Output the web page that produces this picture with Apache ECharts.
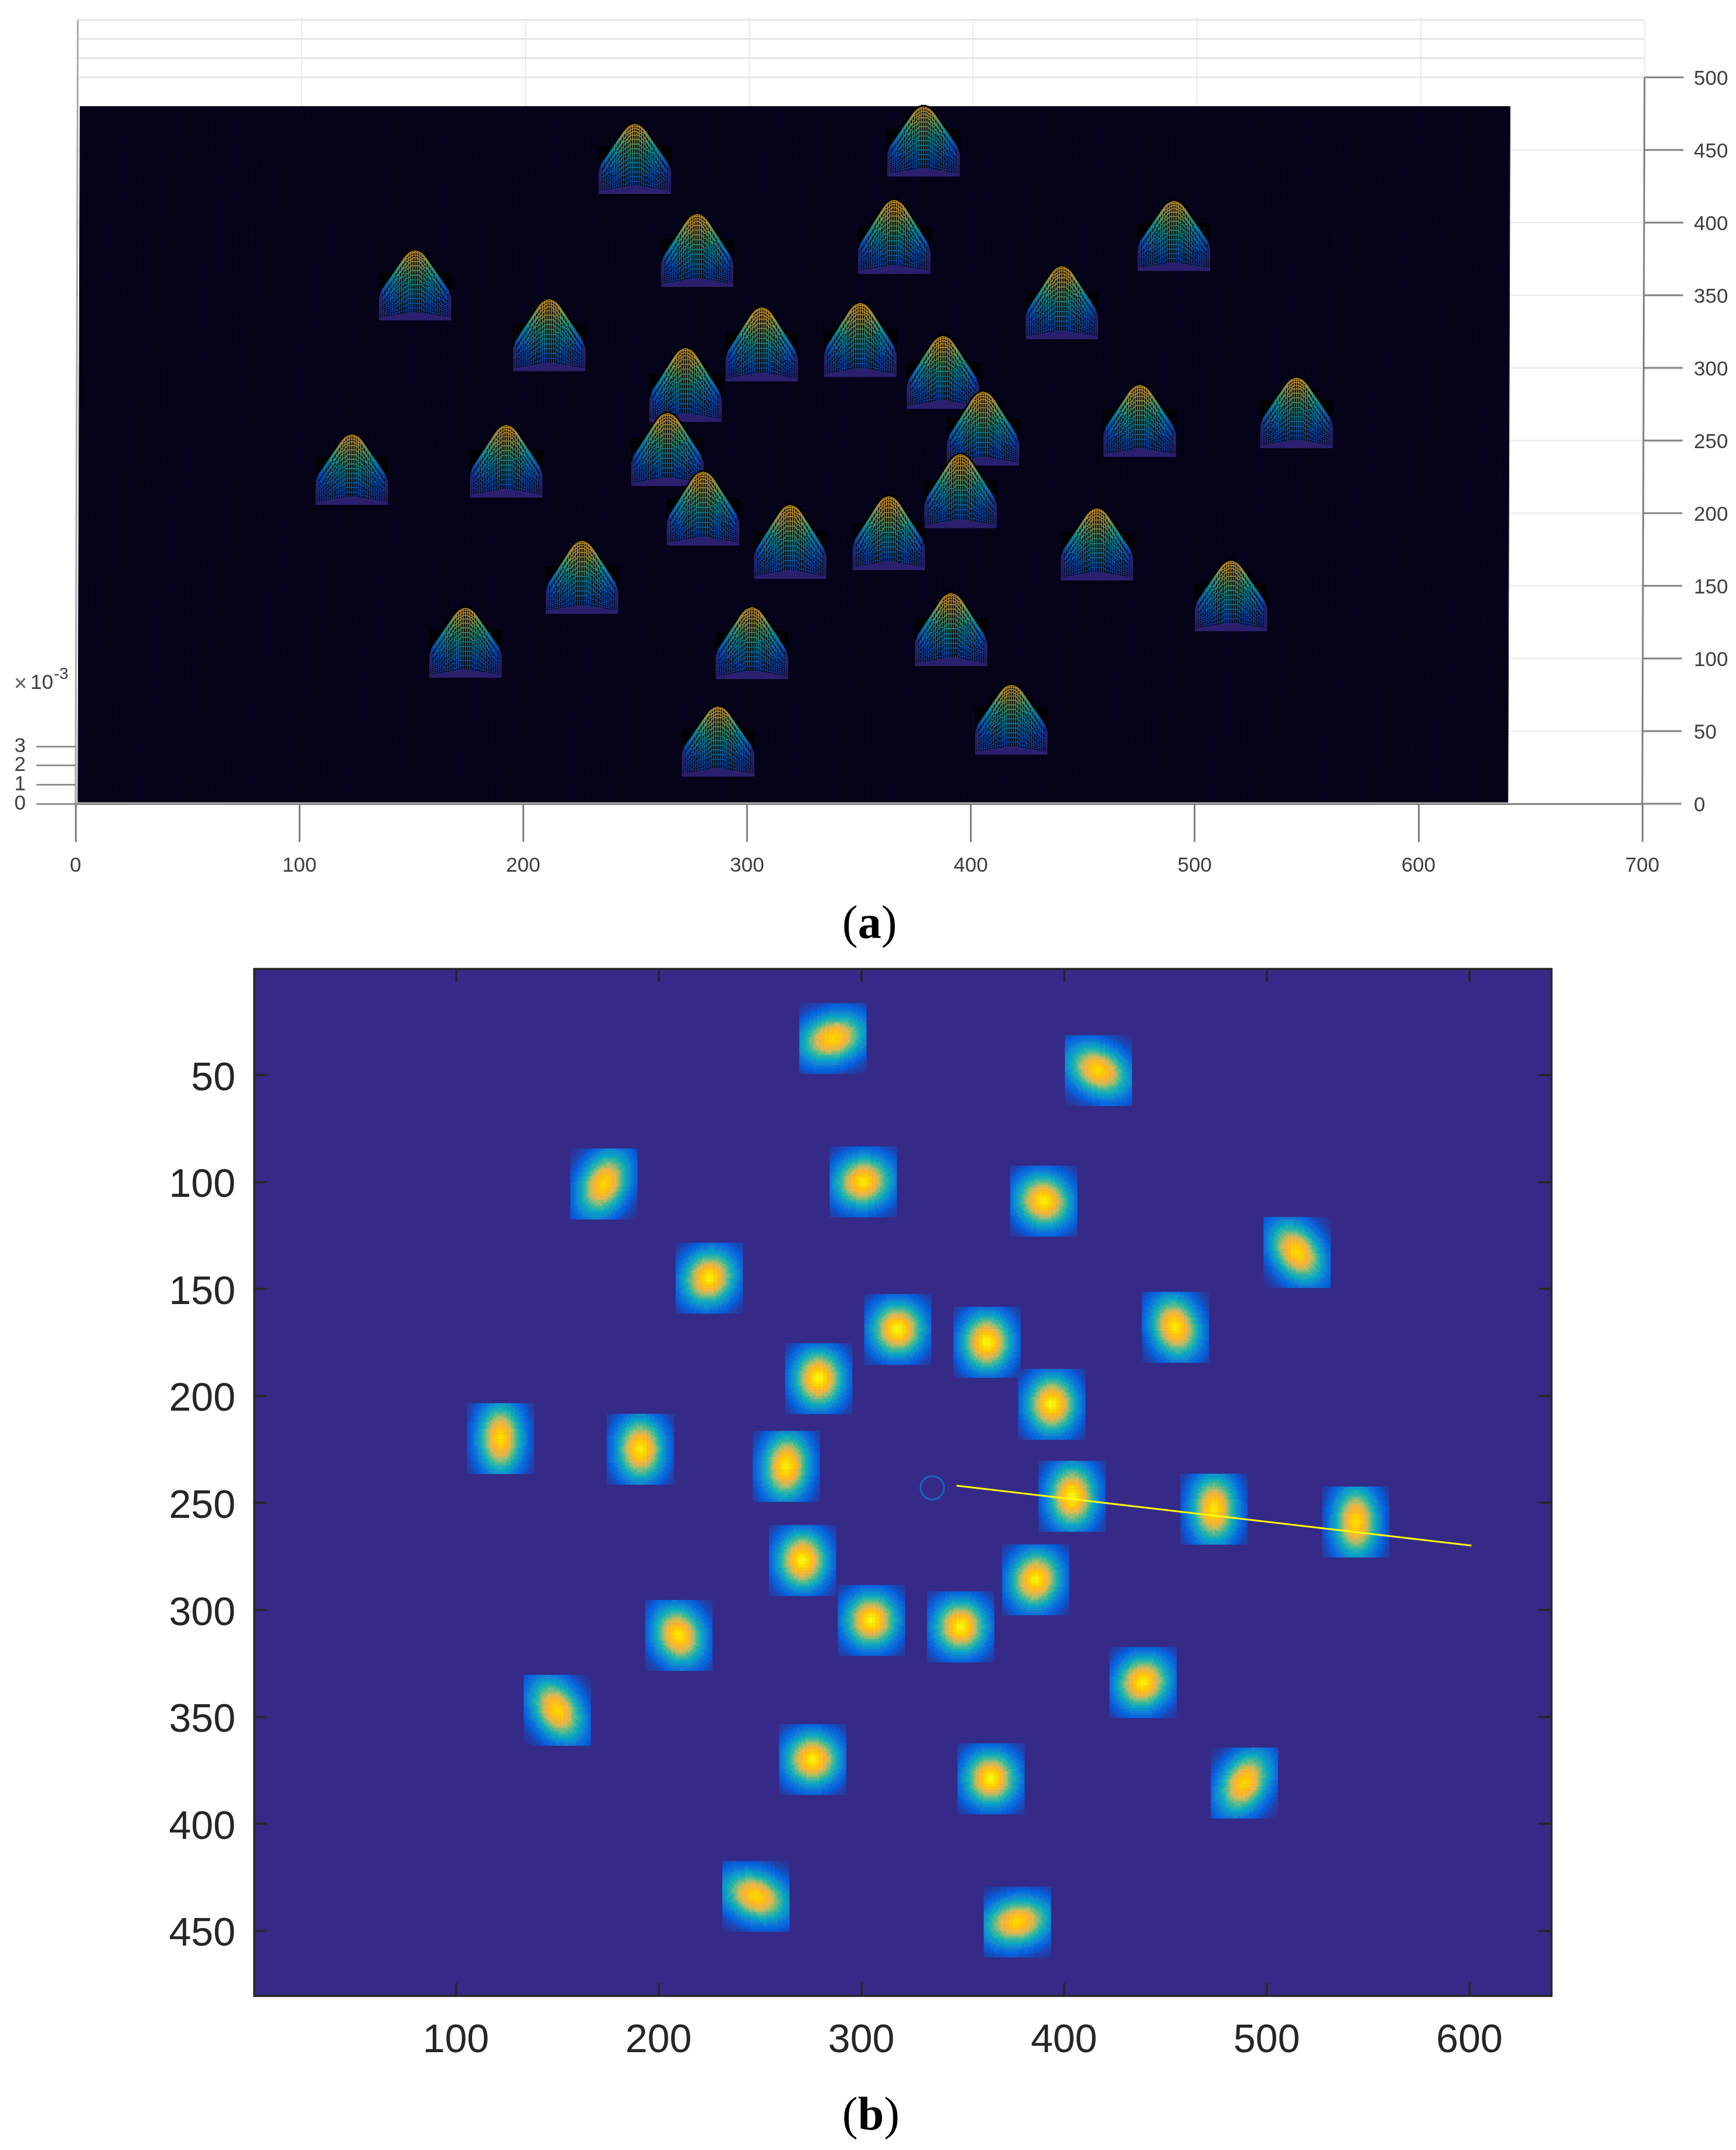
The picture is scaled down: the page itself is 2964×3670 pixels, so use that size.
<!DOCTYPE html>
<html>
<head>
<meta charset="utf-8">
<style>
    html, body { margin: 0; padding: 0; background: #fff; }
    #myChart { width: 2964px; height: 3670px; }
</style>
<script src="https://cdn.jsdelivr.net/npm/echarts@6/dist/echarts.min.js"></script>
</head>
<body>
<div id="myChart"></div>
<script>
/* tick labels */
var imageXTicks = [100, 200, 300, 400, 500, 600];
var imageYTicks = [50, 100, 150, 200, 250, 300, 350, 400, 450];
var surfXTicks = [0, 100, 200, 300, 400, 500, 600, 700];
var surfYTicks = [0, 50, 100, 150, 200, 250, 300, 350, 400, 450, 500];
var surfZTicks = [0, 1, 2, 3];
var surfZTicksEven = [0, 2];   // two axes, labels sit too close for one
var surfZTicksOdd = [1, 3];

/* spots: centre, peak level, elongation, tilt in degrees */
var spotX = [286, 417, 173, 301, 390, 515, 225, 318, 362, 455, 279, 394, 122, 191, 263, 404, 474, 544, 271, 386, 305, 349, 210, 439, 150, 276, 364, 489, 248, 377];
var spotY = [33, 48, 101, 100, 109, 133, 145, 169, 175, 168, 192, 204, 220, 225, 233, 247, 253, 259, 277, 286, 305, 308, 312, 334, 347, 370, 379, 381, 434, 446];
var spotPeak = [0.92, 0.92, 0.92, 0.96, 0.98, 0.93, 0.98, 1, 1, 0.96, 1, 1, 0.93, 0.97, 0.98, 1, 0.96, 0.93, 1, 0.98, 1, 1, 0.96, 0.98, 0.92, 0.98, 1, 0.92, 0.92, 0.92];
var spotLong = [1.35, 1.3, 1.3, 1.15, 1.1, 1.3, 1.1, 1.05, 1.1, 1.2, 1.1, 1.1, 1.35, 1.2, 1.25, 1.2, 1.3, 1.35, 1.1, 1.1, 1.05, 1.05, 1.15, 1.1, 1.3, 1.1, 1.05, 1.3, 1.35, 1.35];
var spotTilt = [15, -25, 60, 10, -20, -50, 40, 0, 90, -70, 90, 90, 90, 90, 85, 90, 90, 90, 90, 70, 0, 0, -60, 30, -55, 0, 0, 55, -20, 10];

/* level at each whole radius from the spot centre */
var imageLevels = [1, 0.98, 0.95, 0.91, 0.86, 0.8, 0.73, 0.64, 0.56, 0.49, 0.43, 0.37, 0.31, 0.26, 0.2, 0.16, 0.13, 0.1, 0.08, 0.06, 0.05, 0.04, 0.03, 0.02, 0.01, 0];
var surfLevels = [1, 0.99, 0.97, 0.94, 0.89, 0.83, 0.76, 0.69, 0.62, 0.55, 0.48, 0.41, 0.34, 0.27, 0.2, 0.13, 0.1, 0.08, 0.06, 0.05, 0.04, 0.03, 0.02, 0.01];

/* overlays on panel (b) */
var traceX = [347, 601];
var traceY = [242, 270];
var ringX = [335];
var ringY = [243];

/* colour scale */
var parula = ['#352a87', '#0363e1', '#1485d4', '#06a7c6', '#38b99e', '#92bf73', '#d9ba56', '#fdb52d', '#ffd000', '#f9fb0e'];

var SPOT_HALF = 16;      // window half width
var SURF_PEAK = 2.6;     // peak height in 1e-3
var SURF_DX = 1;         // surface sits a little off the image grid
var SURF_DY = 2;
var Z_TO_Y = 13.2;       // 1e-3 of height drawn as this many y units
var SHEAR = 0.002;       // view tilt of the y axis

function spotRadius(i, dx, dy) {
    var a = spotTilt[i] * Math.PI / 180;
    var u = dx * Math.cos(a) - dy * Math.sin(a);
    var v = dx * Math.sin(a) + dy * Math.cos(a);
    var lng = spotLong[i], sht = Math.sqrt(1.1 / lng);
    return Math.sqrt(u * u / (lng * lng) + v * v / (sht * sht));
}
function levelAt(levels, r) {
    var k = Math.round(r);
    return k >= levels.length ? 0 : levels[k];
}

/* image cells */
var imageCats = [], imageRows = [];
for (var c = 1; c <= 640; c++) imageCats.push(String(c));
for (var r = 1; r <= 480; r++) imageRows.push(String(r));
var imageCells = [];
spotX.forEach(function (sx, i) {
    for (var dx = -SPOT_HALF; dx <= SPOT_HALF; dx++) {
        for (var dy = -SPOT_HALF; dy <= SPOT_HALF; dy++) {
            imageCells.push([sx + dx - 1, spotY[i] + dy - 1, spotPeak[i] * levelAt(imageLevels, spotRadius(i, dx, dy))]);
        }
    }
});

/* surface quads, panel (a) */
var quads = [];
spotX.forEach(function (sx, i) {
    var N = SPOT_HALF, h = {};
    for (var dx = -N; dx <= N; dx++) {
        h[dx] = {};
        for (var dy = -N; dy <= N; dy++) {
            var edge = Math.abs(dx) === N || Math.abs(dy) === N;
            h[dx][dy] = edge ? 0 : SURF_PEAK * spotPeak[i] * levelAt(surfLevels, Math.sqrt(dx * dx + dy * dy));
        }
    }
    for (dx = -N; dx < N; dx++) {
        for (dy = -N; dy < N; dy++) {
            quads.push([sx + dx + SURF_DX, spotY[i] + dy + SURF_DY, h[dx][dy], h[dx + 1][dy], h[dx + 1][dy + 1], h[dx][dy + 1], dy === -N ? 1 : (dy >= 0 ? 2 : 0)]);
        }
    }
});
quads.sort(function (a, b) { return b[1] - a[1]; });

function project(api, x, y, z) {
    return api.coord([x + y * SHEAR, y + z * Z_TO_Y]);
}

function renderQuad(params, api) {
    var x = api.value(0), y = api.value(1);
    var z0 = api.value(2), z1 = api.value(3), z2 = api.value(4), z3 = api.value(5);
    var part = api.value(6);
    var low = Math.min(z0, z1, z2, z3);
    var high = Math.max(z0, z1, z2, z3);
    var line = echarts.color.lerp(low / SURF_PEAK * 0.85, parula);
    line = echarts.color.lerp(0.8, ['#000000', line]);
    var fill = '#000';
    if (part === 1 && high > 0) fill = '#2b2070';
    else if (part === 0) fill = echarts.color.lerp(0.1, ['#000000', line]);
    return {
        type: 'polygon',
        silent: true,
        shape: { points: [project(api, x, y, z0), project(api, x + 1, y, z1), project(api, x + 1, y + 1, z2), project(api, x, y + 1, z3)] },
        style: {
            fill: fill,
            // the far half of each window reads as black in the picture
            stroke: part === 2 ? '#000' : line,
            lineWidth: 1.2
        }
    };
}

/* straight segments in the 3d box: x1,y1,z1,x2,y2,z2 */
function segmentSeries(segs, color, width, z) {
    return {
        type: 'custom',
        xAxisIndex: 3,
        yAxisIndex: 3,
        coordinateSystem: 'cartesian2d',
        data: segs,
        encode: { x: 0, y: 1 },
        z: z,
        silent: true,
        animation: false,
        progressive: 0,
        clip: false,
        renderItem: function (params, api) {
            var a = project(api, api.value(0), api.value(1), api.value(2));
            var b = project(api, api.value(3), api.value(4), api.value(5));
            return { type: 'line', silent: true, shape: { x1: a[0], y1: a[1], x2: b[0], y2: b[1] }, style: { stroke: color, lineWidth: width } };
        }
    };
}

var wallZ = [], wallX = [], wallY = [], meshLines = [], tickLines = [];
surfZTicks.forEach(function (z) { wallZ.push([0, 500, z, 700, 500, z]); });
surfXTicks.forEach(function (x) { wallX.push([x, 0, 0, x, 500, 0]); wallX.push([x, 500, 0, x, 500, 3]); });
surfYTicks.forEach(function (y) {
    wallY.push([0, y, 0, 700, y, 0]);
    tickLines.push([700, y, 0, 717.5, y, 0]);
});
tickLines.push([700, 0, 0, 700, 500, 0]);
for (var mx = 1; mx <= 640; mx++) meshLines.push([mx, 1, 0, mx, 480, 0]);
for (var my = 1; my <= 480; my++) meshLines.push([1, my, 0, 640, my, 0]);

var AXIS_GREY = '#808080';
var TEXT_GREY = '#404040';
var DARK = '#262626';

function zAxis(ticks) {
    return {
        type: 'value', gridIndex: 3, min: 0, max: 3, position: 'left', z: 6,
        axisLine: { lineStyle: { color: '#aaaaaa', width: 3 } },
        axisTick: { length: 67, customValues: ticks, lineStyle: { color: AXIS_GREY, width: 2.5 } },
        axisLabel: { customValues: ticks, margin: 85, color: TEXT_GREY, fontSize: 35, fontFamily: 'Liberation Sans' },
        splitLine: { show: false }
    };
}

var myChart = echarts.init(document.getElementById('myChart'));
var option = {
    animation: false,
    backgroundColor: '#fff',
    grid: [
        { left: 434, top: 1654, width: 2215, height: 1753, show: true, backgroundColor: '#352a87', borderWidth: 0, outerBoundsMode: 'none' },
        { left: 434, top: 1654, width: 2215, height: 1753, outerBoundsMode: 'none' },
        { left: 129, top: 132, width: 2675, height: 1240, outerBoundsMode: 'none' },
        { left: 129, top: 1273.9, width: 100, height: 98.1, outerBoundsMode: 'none' }
    ],
    xAxis: [
        { type: 'category', gridIndex: 0, data: imageCats, show: false },
        {
            type: 'value', gridIndex: 1, min: 0.5, max: 640.5, position: 'bottom', z: 6,
            axisLine: { onZero: false, lineStyle: { color: DARK, width: 3.5 } },
            axisTick: { inside: true, length: 22, customValues: imageXTicks, lineStyle: { color: DARK, width: 3.5 } },
            axisLabel: { customValues: imageXTicks, margin: 43, color: DARK, fontSize: 68, fontFamily: 'Liberation Sans' },
            splitLine: { show: false }
        },
        {
            type: 'value', gridIndex: 1, min: 0.5, max: 640.5, position: 'top', z: 6,
            axisLine: { onZero: false, lineStyle: { color: DARK, width: 3.5 } },
            axisTick: { inside: true, length: 22, customValues: imageXTicks, lineStyle: { color: DARK, width: 3.5 } },
            axisLabel: { show: false },
            splitLine: { show: false }
        },
        {
            type: 'value', gridIndex: 2, min: 0, max: 700, interval: 100, z: 6,
            axisLine: { onZero: false, lineStyle: { color: AXIS_GREY, width: 3 } },
            axisTick: { length: 65, lineStyle: { color: AXIS_GREY, width: 3 } },
            axisLabel: { margin: 89, color: TEXT_GREY, fontSize: 35, fontFamily: 'Liberation Sans' },
            splitLine: { show: false }
        },
        { type: 'value', gridIndex: 3, min: 0, max: 1, show: false }
    ],
    yAxis: [
        { type: 'category', gridIndex: 0, data: imageRows, inverse: true, show: false },
        {
            type: 'value', gridIndex: 1, min: 0.5, max: 480.5, inverse: true, position: 'left', z: 6,
            axisLine: { onZero: false, lineStyle: { color: DARK, width: 3.5 } },
            axisTick: { inside: true, length: 22, customValues: imageYTicks, lineStyle: { color: DARK, width: 3.5 } },
            axisLabel: { customValues: imageYTicks, margin: 32, verticalAlign: 'top', padding: [-27, 0, 0, 0], color: DARK, fontSize: 68, fontFamily: 'Liberation Sans' },
            splitLine: { show: false }
        },
        {
            type: 'value', gridIndex: 1, min: 0.5, max: 480.5, inverse: true, position: 'right', z: 6,
            axisLine: { onZero: false, lineStyle: { color: DARK, width: 3.5 } },
            axisTick: { inside: true, length: 22, customValues: imageYTicks, lineStyle: { color: DARK, width: 3.5 } },
            axisLabel: { show: false },
            splitLine: { show: false }
        },
        {
            type: 'value', gridIndex: 2, min: 0, max: 500, interval: 50, position: 'right', z: 6,
            axisLine: { show: false },
            axisTick: { show: false },
            axisLabel: { margin: 88, verticalAlign: 'top', padding: [-14, 0, 0, 0], color: TEXT_GREY, fontSize: 35, fontFamily: 'Liberation Sans' },
            splitLine: { show: false }
        },
        zAxis(surfZTicksEven),
        zAxis(surfZTicksOdd)
    ],
    visualMap: {
        show: false,
        seriesIndex: 0,
        dimension: 2,
        min: 0,
        max: 1,
        inRange: { color: parula }
    },
    series: [
        {
            type: 'heatmap',
            xAxisIndex: 0,
            yAxisIndex: 0,
            data: imageCells,
            z: 2,
            silent: true,
            progressive: 0,
            emphasis: { disabled: true }
        },
        {
            type: 'line',
            xAxisIndex: 1,
            yAxisIndex: 1,
            data: traceX.map(function (x, i) { return [x, traceY[i]]; }),
            showSymbol: false,
            lineStyle: { color: '#ffff00', width: 3 },
            z: 4,
            silent: true
        },
        {
            type: 'scatter',
            xAxisIndex: 1,
            yAxisIndex: 1,
            data: ringX.map(function (x, i) { return [x, ringY[i]]; }),
            symbol: 'circle',
            symbolSize: 40,
            itemStyle: { color: 'rgba(0,0,0,0)', borderColor: '#0a78c8', borderWidth: 3 },
            z: 4,
            silent: true
        },
        segmentSeries(wallZ, '#e6e6e6', 3, 1),
        segmentSeries(wallX, '#e4e4e4', 1.5, 1),
        segmentSeries(wallY, '#ececec', 2.5, 1),
        segmentSeries([[0, 0, 0, 0, 500, 3]], '#aaaaaa', 3, 1),
        segmentSeries([[700, 500, 0, 700, 500, 3]], '#eeeeee', 2, 1),
        segmentSeries(tickLines, AXIS_GREY, 3, 5),
        {
            type: 'custom',
            xAxisIndex: 3,
            yAxisIndex: 3,
            data: [[1, 1, 640, 480]],
            encode: { x: 0, y: 1 },
            z: 2,
            silent: true,
            clip: false,
            renderItem: function (params, api) {
                var x0 = api.value(0), y0 = api.value(1), x1 = api.value(2), y1 = api.value(3);
                return {
                    type: 'polygon',
                    silent: true,
                    shape: { points: [project(api, x0, y0, 0), project(api, x1, y0, 0), project(api, x1, y1, 0), project(api, x0, y1, 0)] },
                    style: { fill: '#020110', stroke: '#333', lineWidth: 1 }
                };
            }
        },
        segmentSeries(meshLines, 'rgba(53,42,135,0.12)', 1, 2.5),
        {
            type: 'custom',
            xAxisIndex: 3,
            yAxisIndex: 3,
            data: quads,
            encode: { x: 0, y: 1 },
            z: 3,
            silent: true,
            progressive: 0,
            clip: false,
            renderItem: renderQuad
        }
    ],
    graphic: [
        { type: 'text', left: 24, top: 1150, style: { text: '×', fill: '#606060', fontSize: 38, fontFamily: 'Liberation Sans' } },
        { type: 'text', left: 52, top: 1149, style: { text: '10', fill: TEXT_GREY, fontSize: 35, fontFamily: 'Liberation Sans' } },
        { type: 'text', left: 92, top: 1137, style: { text: '-3', fill: TEXT_GREY, fontSize: 28, fontFamily: 'Liberation Sans' } },
        {
            type: 'text', left: 1438, top: 1540,
            style: {
                text: '{p|(}{b|a}{p|)}',
                rich: {
                    p: { fontSize: 80, fontFamily: 'Liberation Serif', fill: '#000' },
                    b: { fontSize: 80, fontWeight: 'bold', fontFamily: 'Liberation Serif', fill: '#000' }
                }
            }
        },
        {
            type: 'text', left: 1438, top: 3574,
            style: {
                text: '{p|(}{b|b}{p|)}',
                rich: {
                    p: { fontSize: 80, fontFamily: 'Liberation Serif', fill: '#000' },
                    b: { fontSize: 80, fontWeight: 'bold', fontFamily: 'Liberation Serif', fill: '#000' }
                }
            }
        }
    ]
};
myChart.setOption(option);
</script>
</body>
</html>
